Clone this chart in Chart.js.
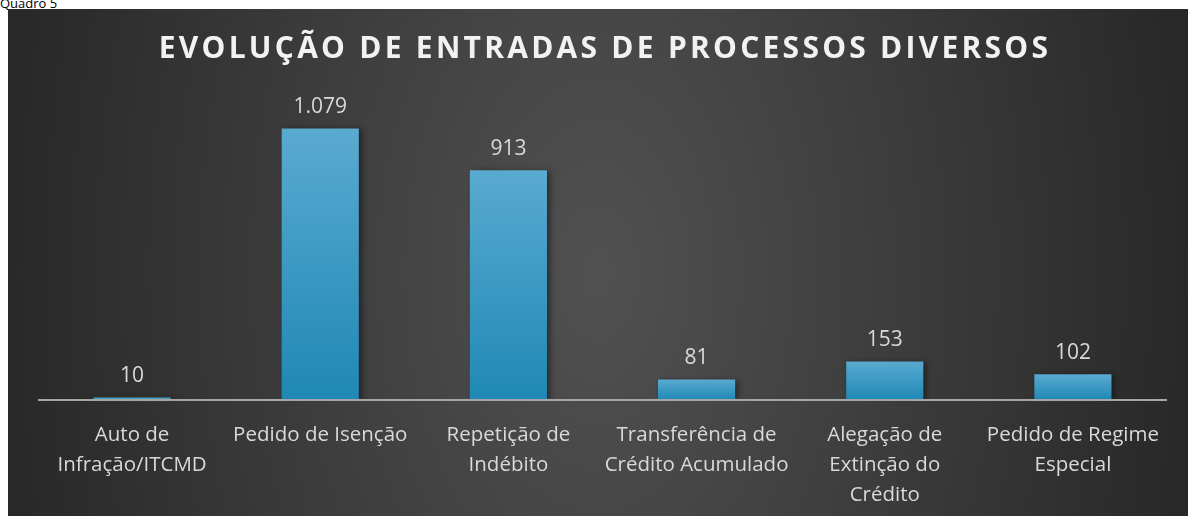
<!DOCTYPE html>
<html>
<head>
<meta charset="utf-8">
<script src="https://cdn.jsdelivr.net/npm/chart.js@4/dist/chart.umd.min.js"></script>
<style>
	body { margin: 0; background: #fff; width: 1193px; height: 516px; overflow: hidden; position: relative; }
	#caption { position: absolute; left: 0; top: -6px; font: 13px "Open Sans", sans-serif; color: #000; }
	#box { position: absolute; left: 8px; top: 9px; width: 1180px; height: 507px;
		background: radial-gradient(ellipse 600px 1000px at 50% 52%, #515151 0%, #282828 100%); }
</style>
</head>
<body>
<div id="caption">Quadro 5</div>
<div id="box"><canvas id="chart-main" width="1180" height="507"></canvas></div>
<script>
var chart_title = "EVOLUÇÃO DE ENTRADAS DE PROCESSOS DIVERSOS";
var categories = [
	["Auto de", "Infração/ITCMD"],
	["Pedido de Isenção"],
	["Repetição de", "Indébito"],
	["Transferência de", "Crédito Acumulado"],
	["Alegação de", "Extinção do", "Crédito"],
	["Pedido de Regime", "Especial"]
];
var entradas = [10, 1079, 913, 81, 153, 102];

function fmt_num(v) {
	return v.toLocaleString('pt-BR');
}

// per bar vertical gradient
function bar_color(context) {
	var chart = context.chart;
	var y = chart.scales.y;
	if (!y || context.type !== 'data') return '#2a8fbd';
	var top = y.getPixelForValue(context.raw);
	var base = y.getPixelForValue(0);
	if (!isFinite(top) || !isFinite(base)) return '#2a8fbd';
	if (base - top < 1) top = base - 1;
	var g = chart.ctx.createLinearGradient(0, top, 0, base);
	g.addColorStop(0, '#5aaad0');
	g.addColorStop(1, '#1f88b5');
	return g;
}

var deco_plugin = {
	id: 'deco',
	beforeDatasetsDraw: function (chart) {
		var ctx = chart.ctx;
		ctx.save();
		ctx.shadowColor = 'rgba(0,0,0,0.45)';
		ctx.shadowBlur = 6;
		ctx.shadowOffsetX = 3;
		ctx.shadowOffsetY = 1;
	},
	afterDatasetsDraw: function (chart) {
		var ctx = chart.ctx;
		ctx.restore();

		// axis line: half a category beyond the first and last bar
		var sx = chart.scales.x;
		var n = categories.length;
		var x0 = sx.getPixelForValue(0);
		var xn = sx.getPixelForValue(n - 1);
		var half = (xn - x0) / (n - 1) / 2;
		var base = chart.scales.y.getPixelForValue(0);
		ctx.save();
		ctx.strokeStyle = '#a6a6a6';
		ctx.lineWidth = 2;
		ctx.beginPath();
		ctx.moveTo(x0 - half, base);
		ctx.lineTo(xn + half, base);
		ctx.stroke();
		ctx.restore();

		// value labels
		var meta = chart.getDatasetMeta(0);
		ctx.save();
		ctx.font = '21px "Open Sans", sans-serif';
		ctx.fillStyle = '#d9d9d9';
		ctx.textAlign = 'center';
		ctx.textBaseline = 'bottom';
		meta.data.forEach(function (bar, i) {
			ctx.fillText(fmt_num(entradas[i]), bar.x, bar.y - 11);
		});
		ctx.restore();
	},
	afterDraw: function (chart) {
		var ctx = chart.ctx;
		ctx.save();
		ctx.font = 'bold 30px "Open Sans", sans-serif';
		ctx.letterSpacing = '3.25px';
		ctx.fillStyle = '#f2f2f2';
		ctx.textAlign = 'center';
		ctx.textBaseline = 'middle';
		ctx.fillText(chart_title, chart.width / 2 + 7, 40);
		ctx.restore();
	}
};

var ctx_main = document.getElementById('chart-main').getContext('2d');
new Chart(ctx_main, {
	type: 'bar',
	data: {
		labels: categories,
		datasets: [{
			data: entradas,
			backgroundColor: bar_color,
			borderWidth: 0,
			categoryPercentage: 1,
			barPercentage: 0.41
		}]
	},
	options: {
		responsive: false,
		animation: false,
		layout: { padding: { top: 89, left: 30, right: 21, bottom: 0 } },
		plugins: {
			legend: { display: false },
			tooltip: { enabled: false }
		},
		scales: {
			x: {
				grid: { display: false, drawTicks: false },
				border: { display: false },
				ticks: {
					color: '#d9d9d9',
					font: { family: '"Open Sans", sans-serif', size: 20.5, lineHeight: 1.46 },
					padding: 20,
					maxRotation: 0,
					autoSkip: false
				},
				afterFit: function (s) { s.height = 116; }
			},
			y: {
				display: false,
				min: 0,
				max: 1200
			}
		}
	},
	plugins: [deco_plugin]
});
</script>
</body>
</html>
